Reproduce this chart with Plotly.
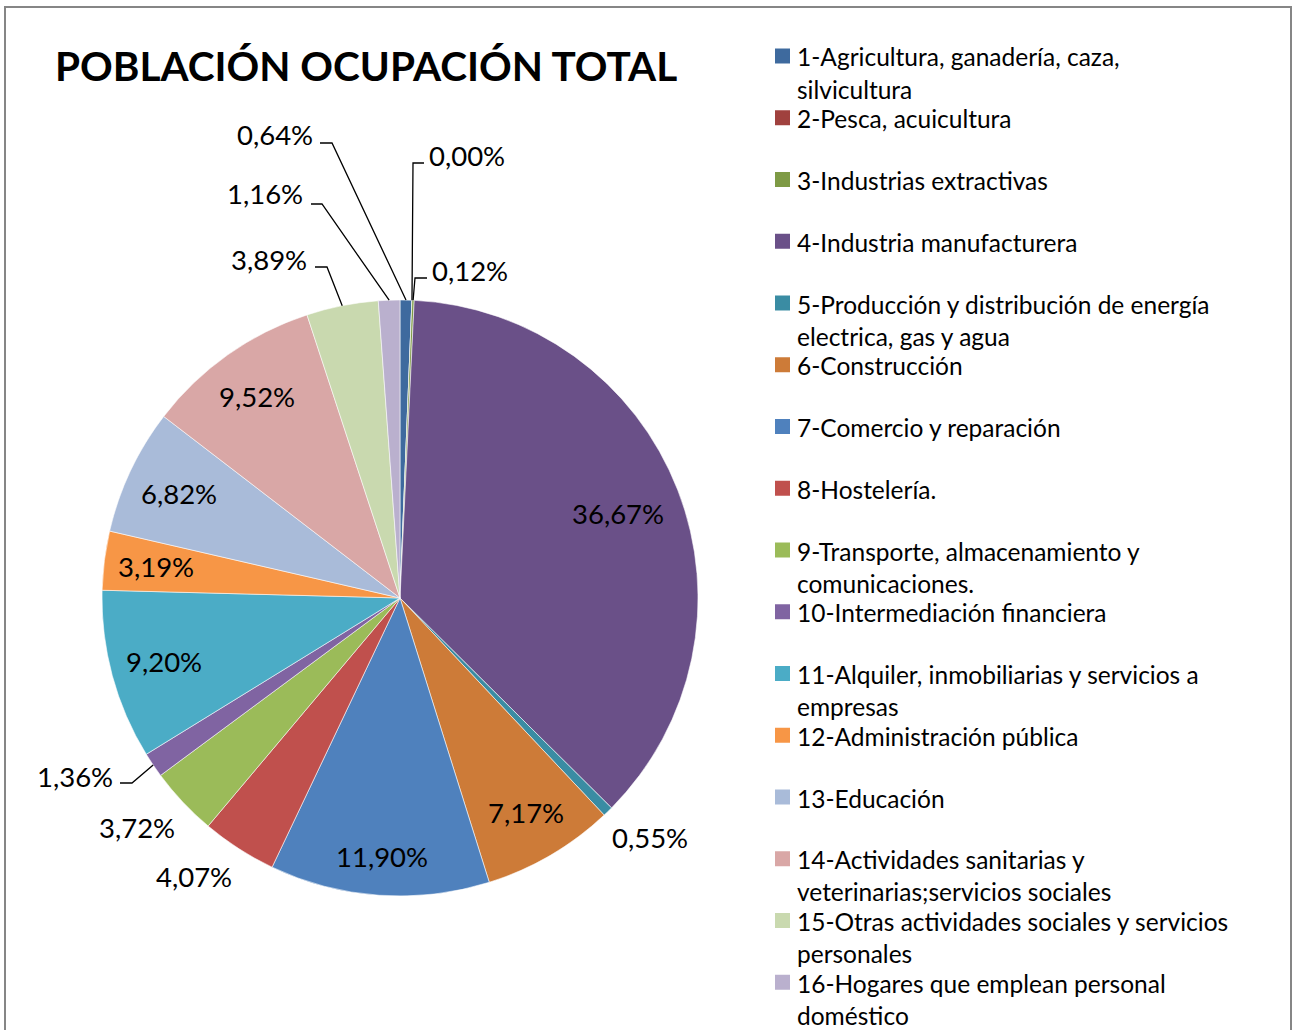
import numpy as np
import plotly.graph_objects as go

# ---------------- data ----------------
categories = [
    "1-Agricultura, ganadería, caza,<br>silvicultura",
    "2-Pesca, acuicultura",
    "3-Industrias extractivas",
    "4-Industria manufacturera",
    "5-Producción y distribución de energía<br>electrica, gas y agua",
    "6-Construcción",
    "7-Comercio y reparación",
    "8-Hostelería.",
    "9-Transporte, almacenamiento y<br>comunicaciones.",
    "10-Intermediación financiera",
    "11-Alquiler, inmobiliarias y servicios a<br>empresas",
    "12-Administración pública",
    "13-Educación",
    "14-Actividades sanitarias y<br>veterinarias;servicios sociales",
    "15-Otras actividades sociales y servicios<br>personales",
    "16-Hogares que emplean personal<br>doméstico",
]
shares = [0.64, 0.00, 0.12, 36.67, 0.55, 7.17, 11.90, 4.07,
          3.72, 1.36, 9.20, 3.19, 6.82, 9.52, 3.89, 1.16]
colors = ["#3E6A9E", "#A0413E", "#7E9A45", "#6A5088", "#3A8CA3", "#CD7B38",
          "#4F81BD", "#C0504D", "#9BBB59", "#8064A2", "#4BACC6", "#F79646",
          "#A9BBD9", "#D9A7A6", "#C9D9AF", "#BAB0CE"]
title_text = "POBLACIÓN OCUPACIÓN TOTAL"

# ---------------- layout constants ----------------
W, H = 1294, 1030
CX, CY, R = 400, 598, 298
FONT = "Lato"
LABEL_SIZE = 27.5
LEGEND_SIZE = 24.5
TITLE_SIZE = 40.5

def px(x):
    return x / W

def py(y):
    return 1 - y / H

vals = np.array(shares)
total = vals.sum()
start = np.concatenate([[0], np.cumsum(vals)[:-1]])
mid_deg = (start + vals / 2) / total * 360.0
mid_rad = np.deg2rad(mid_deg)

def polar(i, rf):
    return CX + rf * R * np.sin(mid_rad[i]), CY - rf * R * np.cos(mid_rad[i])

def pct(v):
    return f"{v:.2f}%".replace(".", ",")

fig = go.Figure()
fig.add_trace(go.Pie(
    labels=[c.replace("<br>", " ") for c in categories],
    values=shares,
    sort=False,
    direction="clockwise",
    rotation=0,
    marker=dict(colors=colors, line=dict(color="rgba(255,255,255,0.7)", width=0.8)),
    textinfo="none",
    hovertemplate="%{label}: %{value:.2f}%<extra></extra>",
    domain=dict(x=[px(CX - R), px(CX + R)], y=[py(CY + R), py(CY - R)]),
    showlegend=False,
))

annotations = []
shapes = []

def add_label(i, x, y):
    annotations.append(dict(x=px(x), y=py(y), xref="paper", yref="paper",
                            text=pct(shares[i]), showarrow=False,
                            xanchor="center", yanchor="middle",
                            font=dict(family=FONT, size=LABEL_SIZE, color="black")))

# inside labels (radius factor along slice bisector)
inside_rf = {3: 0.785, 5: 0.835, 6: 0.87, 10: 0.82, 11: 0.826, 12: 0.82, 13: 0.83}
for i, rf in inside_rf.items():
    add_label(i, *polar(i, rf))

# outside labels without leader lines (text centre)
outside_pos = {4: (650, 837), 7: (194, 876), 8: (137, 827)}
for i, (x, y) in outside_pos.items():
    add_label(i, x, y)

# labels with leader lines: text centre, elbow points
leader = {
    0: ((275, 135), [(320, 143), (332, 143)]),
    1: ((467, 156), [(424, 163), (413, 163)]),
    2: ((470, 270), [(427, 278), (415, 278)]),
    15: ((265, 194), [(311, 204), (322, 204)]),
    14: ((269, 259), [(315, 267), (327, 267)]),
    9: ((75, 776), [(120, 783), (132, 783)]),
}
for i, ((tx, ty), pts) in leader.items():
    add_label(i, tx, ty)
    ex, ey = polar(i, 1.0)
    allp = pts + [(ex, ey)]
    path = "M " + " L ".join(f"{px(a)},{py(b)}" for a, b in allp)
    shapes.append(dict(type="path", xref="paper", yref="paper", path=path,
                       line=dict(color="black", width=1.3)))

# custom legend
LEG_X_BOX, LEG_X_TXT, LEG_Y0, LEG_PITCH, LINE_H, BOX = 775, 795, 57, 61.75, 32, 15
for i, name in enumerate(categories):
    yc = LEG_Y0 + i * LEG_PITCH
    shapes.append(dict(type="rect", xref="paper", yref="paper",
                       x0=px(LEG_X_BOX), x1=px(LEG_X_BOX + BOX),
                       y0=py(yc - 1 + BOX / 2), y1=py(yc - 1 - BOX / 2),
                       fillcolor=colors[i], line=dict(width=0)))
    for k, line in enumerate(name.split("<br>")):
        annotations.append(dict(x=px(LEG_X_TXT), y=py(yc + k * LINE_H),
                                xref="paper", yref="paper", text=line,
                                showarrow=False, xanchor="left", yanchor="middle",
                                font=dict(family=FONT, size=LEGEND_SIZE, color="black")))

# chart border
shapes.append(dict(type="rect", xref="paper", yref="paper",
                   x0=px(5), x1=px(1291), y0=py(1040), y1=py(7),
                   line=dict(color="#868686", width=2), fillcolor="rgba(0,0,0,0)"))

fig.update_layout(
    width=W, height=H, autosize=False,
    margin=dict(l=0, r=0, t=0, b=0),
    paper_bgcolor="white", plot_bgcolor="white",
    title=dict(text=title_text, x=px(55), xanchor="left", xref="paper",
               y=py(67), yanchor="middle", yref="container",
               font=dict(family=FONT, size=TITLE_SIZE, color="black", weight="bold")),
    annotations=annotations,
    shapes=shapes,
    showlegend=False,
)

fig.write_html(
    "out.html",
    config={"displayModeBar": False},
    post_script="document.body.style.margin='0';document.body.style.overflow='hidden';",
)
